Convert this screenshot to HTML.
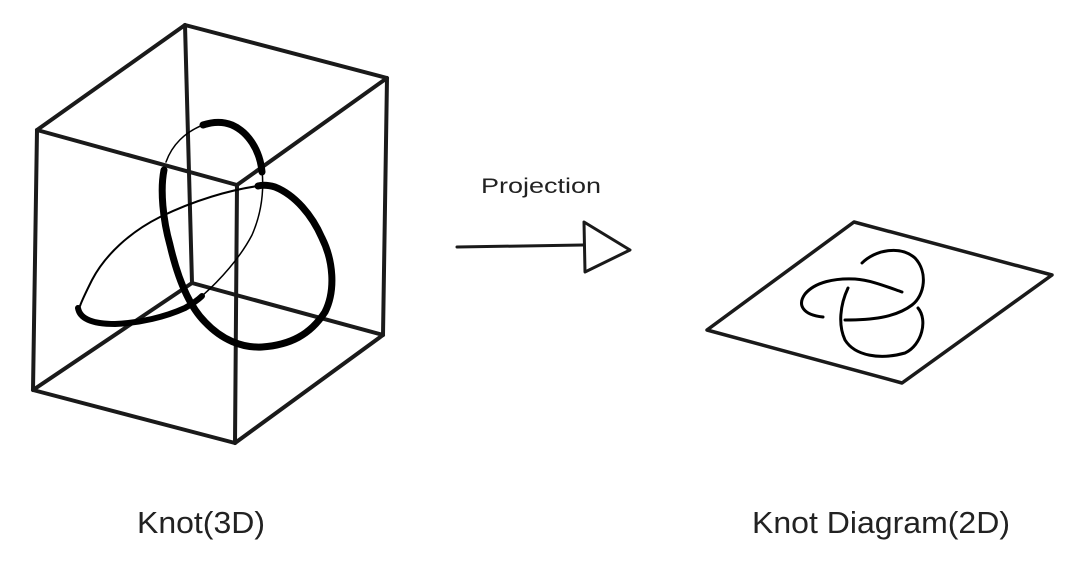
<!DOCTYPE html>
<html><head><style>
html,body{margin:0;padding:0;background:#fff;width:1080px;height:567px;overflow:hidden}
</style></head><body>
<svg width="1080" height="567" viewBox="0 0 1080 567" xmlns="http://www.w3.org/2000/svg">
<g fill="none" stroke="#1a1a1a" stroke-width="4" stroke-linecap="round" stroke-linejoin="round">
<polygon points="37,130 237,185 235,443 33,390"/>
<polygon points="185,25 387,78 383,335 192,283"/>
<line x1="37" y1="130" x2="185" y2="25"/>
<line x1="237" y1="185" x2="387" y2="78"/>
<line x1="235" y1="443" x2="383" y2="335"/>
<line x1="33" y1="390" x2="192" y2="283"/>
</g>
<g fill="none" stroke="#000" stroke-linecap="round" stroke-linejoin="round">
<path d="M203,125 C185,132 172,145 166,162" stroke-width="1.5"/>
<path d="M164,170 C160,190 163,220 170,245 C177,275 188,305 205,322 C222,340 242,348 262,347 C290,345 310,335 325,312 C336,290 333,260 322,238 C312,215 295,195 275,187 C268,185 262,185 258,186" stroke-width="7"/>
<path d="M258,186 C230,190 195,200 160,217 C130,232 105,255 92,280 C86,292 82,300 80,306" stroke-width="2"/>
<path d="M78,308 C80,320 95,324 115,324 C140,323 165,317 185,308 C192,304 198,300 202,296" stroke-width="6"/>
<path d="M202,296 C220,280 240,258 252,235 C262,212 264,190 262,170" stroke-width="1.5"/>
<path d="M262,172 C260,150 248,132 232,125 C222,121 212,122 203,125" stroke-width="7"/>
</g>
<g fill="none" stroke="#1a1a1a" stroke-width="3.5" stroke-linejoin="round" stroke-linecap="round">
<polygon points="854,222 1052,275 902,383 707,330"/>
</g>
<g fill="none" stroke="#000" stroke-width="3" stroke-linecap="round">
<path d="M862,263 C875,250 900,245 915,258 C928,272 925,295 912,305 C895,318 870,320 845,320"/>
<path d="M902,292 C885,286 870,280 855,279 C835,278 815,282 805,294 C797,305 803,315 823,317"/>
<path d="M848,288 C840,305 838,325 845,340 C855,356 880,360 905,353 C922,345 928,320 918,308"/>
</g>
<g fill="none" stroke="#1a1a1a" stroke-width="3" stroke-linejoin="round" stroke-linecap="round">
<line x1="457" y1="247" x2="583" y2="245"/>
<polygon points="584,222 630,250 585,272"/>
</g>
<g font-family="Liberation Sans, sans-serif" fill="#222">
<text x="481" y="193" font-size="21" textLength="120" lengthAdjust="spacingAndGlyphs">Projection</text>
<text x="137" y="533" font-size="31" textLength="128" lengthAdjust="spacingAndGlyphs">Knot(3D)</text>
<text x="752" y="533" font-size="31" textLength="258" lengthAdjust="spacingAndGlyphs">Knot Diagram(2D)</text>
</g>
</svg>
</body></html>
